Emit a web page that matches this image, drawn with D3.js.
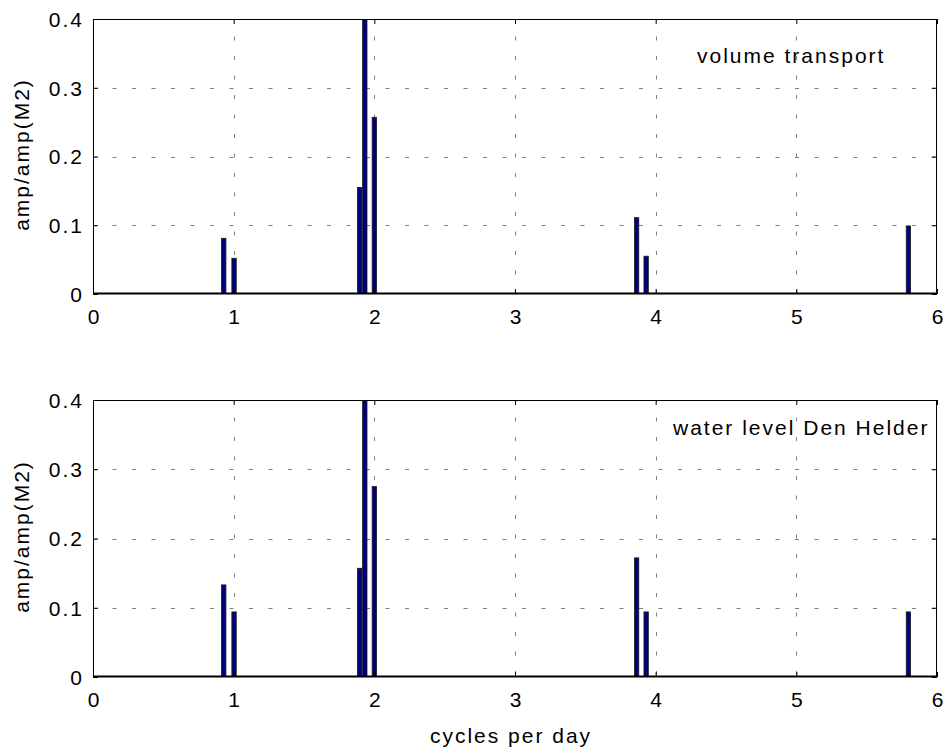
<!DOCTYPE html>
<html><head><meta charset="utf-8">
<script src="https://cdn.jsdelivr.net/npm/d3@7"></script>
<style>
body{margin:0;background:#fff;}
svg text{font-family:"Liberation Sans",Arial,sans-serif;fill:#000;}
</style></head>
<body><svg id="c" width="947" height="748"></svg>
<script>
// tidal constituent frequencies (cycles per day)
const freqs = [0.9295, 1.0027, 1.8960, 1.9323, 2.0000, 3.8645, 3.9323, 5.7968];
const volumeTransport = [0.081, 0.052, 0.155, 1.0, 0.257, 0.111, 0.055, 0.099];
const waterLevelDenHelder = [0.133, 0.094, 0.157, 1.0, 0.275, 0.172, 0.094, 0.094];
const xTicks = [0, 1, 2, 3, 4, 5, 6];
const yTicks = [0, 0.1, 0.2, 0.3, 0.4];
const panelTitles = ["volume transport", "water level Den Helder"];

const FS = 21, LS = 2;
const svg = d3.select("#c");
const L = 93, R = 937;
const panels = [
  {top: 19, bottom: 294, values: volumeTransport, title: panelTitles[0], tx: 697, ty: 63},
  {top: 400, bottom: 677, values: waterLevelDenHelder, title: panelTitles[1], tx: 673, ty: 435}
];
const x = d3.scaleLinear().domain([0, 6]).range([L, R]);
const barW = 0.031;

function styleText(sel, anchor) {
  sel.attr("font-size", FS).attr("letter-spacing", LS).attr("fill", "#000")
     .attr("font-family", '"Liberation Sans",Arial,sans-serif');
  if (anchor) sel.attr("text-anchor", anchor);
}

panels.forEach((p, i) => {
  const y = d3.scaleLinear().domain([0, 0.4]).range([p.bottom, p.top]);
  const g = svg.append("g");
  const cid = "clip" + i;
  g.append("clipPath").attr("id", cid).append("rect")
    .attr("x", L).attr("y", p.top).attr("width", R - L).attr("height", p.bottom - p.top);

  // title text (under grid)
  g.append("text").attr("x", p.tx).attr("y", p.ty).call(styleText).text(p.title);

  // grid
  const grid = g.append("g").attr("stroke", "#808080").attr("stroke-width", 1)
    .attr("stroke-dasharray", "4,15.5").attr("fill", "none");
  xTicks.slice(1, -1).forEach(t => {
    grid.append("line").attr("x1", Math.round(x(t)) + 0.5).attr("x2", Math.round(x(t)) + 0.5)
      .attr("y1", p.top).attr("y2", p.bottom).attr("stroke-dashoffset", 2);
  });
  yTicks.slice(1, -1).forEach(t => {
    grid.append("line").attr("y1", Math.round(y(t)) + 0.5).attr("y2", Math.round(y(t)) + 0.5)
      .attr("x1", L).attr("x2", R);
  });

  // bars
  g.append("g").attr("clip-path", `url(#${cid})`).selectAll("rect").data(freqs).join("rect")
    .attr("x", d => x(d - barW / 2)).attr("width", x(barW) - x(0))
    .attr("y", (d, k) => y(p.values[k])).attr("height", (d, k) => p.bottom - y(p.values[k]))
    .attr("fill", "#000080").attr("stroke", "#1a1a1a").attr("stroke-width", 0.8);

  // box
  g.append("rect").attr("x", L + 0.5).attr("y", p.top + 0.5).attr("width", R - L - 1)
    .attr("height", p.bottom - p.top - 1).attr("fill", "none").attr("stroke", "#000");
  g.append("line").attr("x1", L).attr("x2", R).attr("y1", p.bottom - 0.5).attr("y2", p.bottom - 0.5)
    .attr("stroke", "#000").attr("stroke-width", 2);

  // axes
  const xa = g.append("g").attr("transform", `translate(0,${p.bottom})`)
    .call(d3.axisBottom(x).tickValues(xTicks).tickSize(-5).tickFormat(d3.format("d")));
  xa.select(".domain").remove();
  xa.selectAll("line").attr("stroke", "#000");
  xa.selectAll("text").call(styleText, "middle").attr("dy", null).attr("y", 29.5)
    .attr("x", LS / 2);
  const xaTop = g.append("g").attr("transform", `translate(0,${p.top})`)
    .call(d3.axisTop(x).tickValues(xTicks).tickSize(-5).tickFormat(""));
  xaTop.select(".domain").remove();

  const ya = g.append("g").attr("transform", `translate(${L},0)`)
    .call(d3.axisLeft(y).tickValues(yTicks).tickSize(-5)
      .tickFormat(d => d === 0 ? "0" : d3.format(".1f")(d)));
  ya.select(".domain").remove();
  ya.selectAll("text").call(styleText, "end").attr("x", -11 + LS).attr("dy", "0.35em");
  const yaR = g.append("g").attr("transform", `translate(${R},0)`)
    .call(d3.axisRight(y).tickValues(yTicks).tickSize(-5).tickFormat(""));
  yaR.select(".domain").remove();

  g.append("text").attr("transform", `translate(29,${(p.top + p.bottom) / 2 - 2}) rotate(-90)`)
    .call(styleText, "middle").text("amp/amp(M2)");
});

svg.append("text").attr("x", 510 + LS / 2).attr("y", 743).call(styleText, "middle")
  .text("cycles per day");
</script></body></html>
